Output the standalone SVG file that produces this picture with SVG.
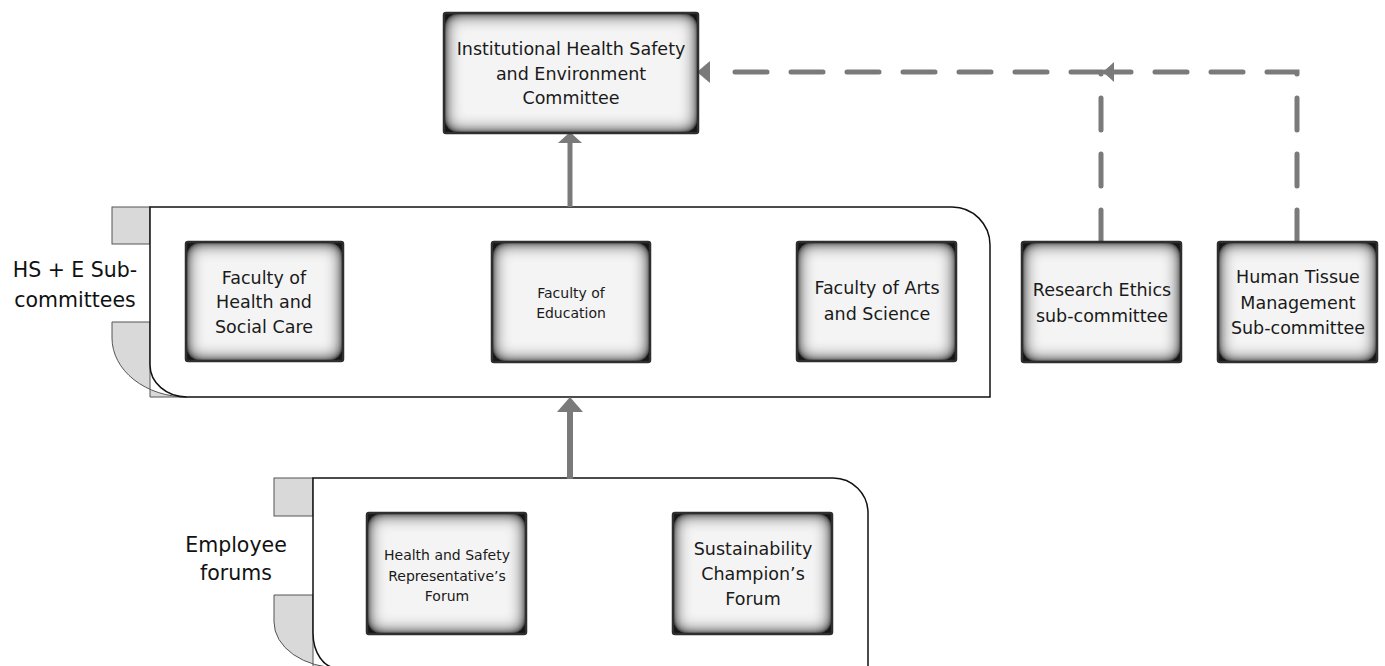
<svg xmlns="http://www.w3.org/2000/svg" width="1385" height="666" viewBox="0 0 1385 666">
<defs>
<filter id="glow" x="-25%" y="-25%" width="150%" height="150%">
<feFlood flood-color="#151515" result="f"/>
<feComposite in="f" in2="SourceAlpha" operator="out" result="o"/>
<feGaussianBlur in="o" stdDeviation="9" result="b"/>
<feComponentTransfer in="b" result="b2"><feFuncA type="linear" slope="1.9"/></feComponentTransfer>
<feComposite in="b2" in2="SourceAlpha" operator="in" result="s"/>
<feMerge><feMergeNode in="SourceGraphic"/><feMergeNode in="s"/></feMerge>
</filter>
</defs>
<style>
.box{fill:#f4f4f4;filter:url(#glow)}
.edge{fill:none;stroke:#2e2e2e;stroke-width:2.5}
.t{font-family:"DejaVu Sans",sans-serif;font-size:17.5px;fill:#1a1a1a;text-anchor:middle}
.s{font-size:14px}
.lab{font-family:"DejaVu Sans",sans-serif;font-size:20.5px;fill:#111;text-anchor:middle}
.panel{fill:#fff;stroke:#111;stroke-width:1.5}
.tab{fill:#d9d9d9;stroke:#555;stroke-width:1}
.solid{stroke:#7a7a7a;fill:none}
.dash{stroke:#7a7a7a;stroke-width:5;fill:none;stroke-dasharray:32 24;stroke-linecap:round}
.head{fill:#7a7a7a}
</style>
<rect width="1385" height="666" fill="#fff"/>

<g id="panel-hse">
<rect class="tab" x="112" y="207" width="38" height="37"/>
<path class="tab" d="M112,322 H150 V397 H187 A75,59 0 0 1 112,338 Z"/>
<path class="panel" d="M150,207 H952 A38,38 0 0 1 990,245 V397 H187 A37,32 0 0 1 150,365 Z"/>
<text class="lab" x="75" y="277">HS + E Sub-</text>
<text class="lab" x="75" y="307">committees</text>
</g>

<g id="panel-forums">
<rect class="tab" x="274" y="478" width="39" height="38"/>
<path class="tab" d="M274,595 H313 V668 H340 A66,46 0 0 1 274,622 Z"/>
<path class="panel" d="M313,478 H833 A35,35 0 0 1 868,513 V668 H337 A24,35 0 0 1 313,633 Z"/>
<text class="lab" x="236" y="552">Employee</text>
<text class="lab" x="236" y="580">forums</text>
</g>

<g id="connectors">
<line class="solid" x1="570" y1="207" x2="570" y2="140" stroke-width="5"/>
<polygon class="head" points="570,132 558,143 582,143"/>
<line class="solid" x1="570" y1="479" x2="570" y2="409" stroke-width="6"/>
<polygon class="head" points="570,397 557,412 583,412"/>
<path class="dash" d="M1101,242 V72 H712"/>
<polygon class="head" points="697,72 710,61 710,83"/>
<path class="dash" d="M1297,242 V72 H1105"/>
<polygon class="head" points="1103,72 1114,62 1114,82"/>
</g>

<g id="n-ihse">
<rect class="box" x="444" y="13" width="254" height="120"/>
<rect class="edge" x="444" y="13" width="254" height="120" rx="2"/>
<text class="t" x="571" y="55">Institutional Health Safety</text>
<text class="t" x="571" y="80">and Environment</text>
<text class="t" x="571" y="104">Committee</text>
</g>

<g id="n-fhsc">
<rect class="box" x="186" y="242" width="157" height="119"/>
<rect class="edge" x="186" y="242" width="157" height="119" rx="2"/>
<text class="t" x="264" y="284">Faculty of</text>
<text class="t" x="264" y="308">Health and</text>
<text class="t" x="264" y="333">Social Care</text>
</g>

<g id="n-fed">
<rect class="box" x="492" y="242" width="158" height="120"/>
<rect class="edge" x="492" y="242" width="158" height="120" rx="2"/>
<text class="t s" x="571" y="298">Faculty of</text>
<text class="t s" x="571" y="318">Education</text>
</g>

<g id="n-fas">
<rect class="box" x="797" y="242" width="159" height="119"/>
<rect class="edge" x="797" y="242" width="159" height="119" rx="2"/>
<text class="t" x="877" y="294">Faculty of Arts</text>
<text class="t" x="877" y="320">and Science</text>
</g>

<g id="n-rec">
<rect class="box" x="1022" y="242" width="159" height="120"/>
<rect class="edge" x="1022" y="242" width="159" height="120" rx="2"/>
<text class="t" x="1102" y="296">Research Ethics</text>
<text class="t" x="1102" y="322">sub-committee</text>
</g>

<g id="n-htm">
<rect class="box" x="1218" y="242" width="159" height="120"/>
<rect class="edge" x="1218" y="242" width="159" height="120" rx="2"/>
<text class="t" x="1298" y="283">Human Tissue</text>
<text class="t" x="1298" y="309">Management</text>
<text class="t" x="1298" y="334">Sub-committee</text>
</g>

<g id="n-hsrf">
<rect class="box" x="367" y="513" width="159" height="121"/>
<rect class="edge" x="367" y="513" width="159" height="121" rx="2"/>
<text class="t s" x="447" y="560">Health and Safety</text>
<text class="t s" x="447" y="581">Representative’s</text>
<text class="t s" x="447" y="601">Forum</text>
</g>

<g id="n-scf">
<rect class="box" x="673" y="513" width="159" height="121"/>
<rect class="edge" x="673" y="513" width="159" height="121" rx="2"/>
<text class="t" x="753" y="555">Sustainability</text>
<text class="t" x="753" y="580">Champion’s</text>
<text class="t" x="753" y="605">Forum</text>
</g>
</svg>
